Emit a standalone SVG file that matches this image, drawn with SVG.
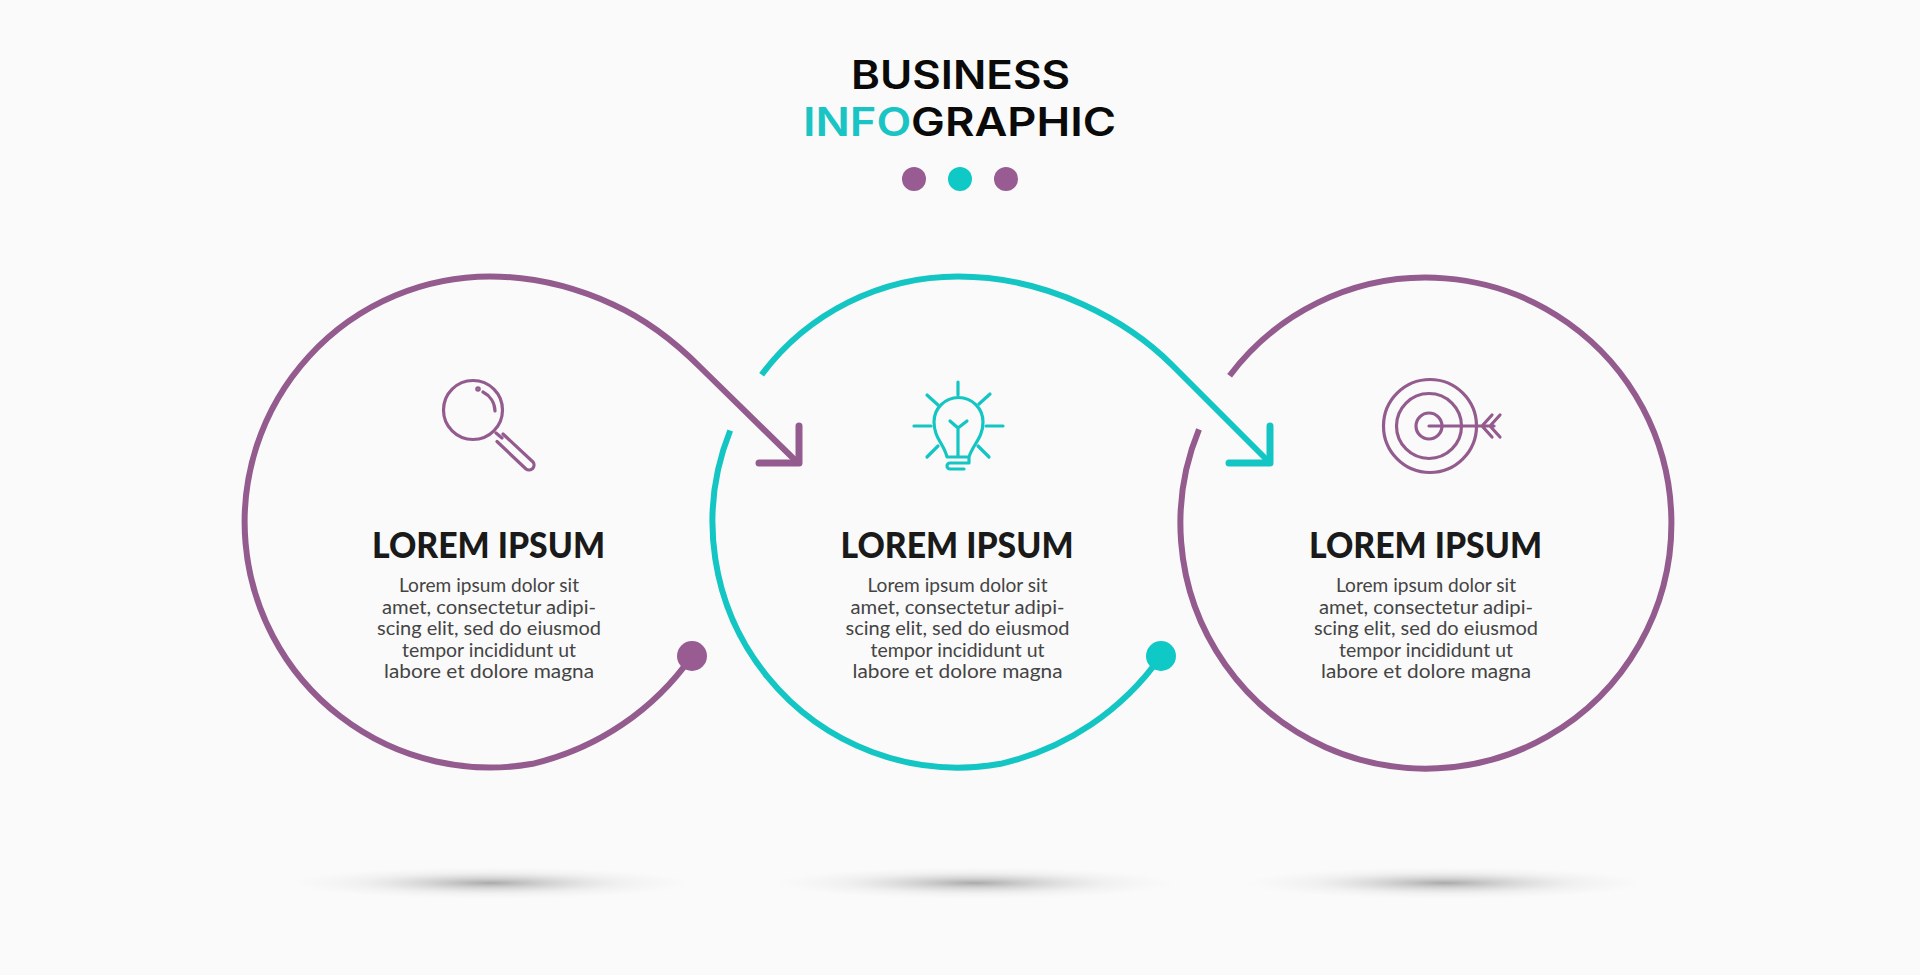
<svg xmlns="http://www.w3.org/2000/svg" width="1920" height="975" viewBox="0 0 1920 975">
<style>
text{text-anchor:middle}
.t{font-family:"Inter","Liberation Sans",sans-serif;font-weight:600;font-size:39px;fill:#0a0a0a}
.h{font-family:"Lato","Liberation Sans",sans-serif;font-weight:900;font-size:36px;fill:#1a1a1a}
.b{font-family:"Lato","Liberation Sans",sans-serif;font-weight:400;font-size:18.5px;fill:#444}
.con{fill:none;stroke-width:6}
.head{fill:none;stroke-width:7;stroke-linecap:round;stroke-linejoin:round}
.ic{fill:none;stroke-width:3.2;stroke-linecap:round;stroke-linejoin:round}
.p{stroke:#935b8e}
.c{stroke:#14c6c3}
.pf{fill:#985c92}
.cf{fill:#0fc9c6}
</style>
<defs>
<radialGradient id="sh"><stop offset="0" stop-color="#8f8f8f" stop-opacity=".75"/><stop offset=".3" stop-color="#a5a5a5" stop-opacity=".45"/><stop offset=".65" stop-color="#c5c5c5" stop-opacity=".18"/><stop offset="1" stop-color="#d8d8d8" stop-opacity="0"/></radialGradient>
</defs>
<rect width="1920" height="975" fill="#fafafa"/>
<g id="title">
<text class="t" x="960.5" y="89" textLength="219" lengthAdjust="spacingAndGlyphs">BUSINESS</text>
<text class="t" x="959.5" y="136" textLength="313" lengthAdjust="spacingAndGlyphs"><tspan fill="#19c4c4">INFO</tspan>GRAPHIC</text>
<circle class="pf" cx="914" cy="179" r="12"/><circle class="cf" cx="960" cy="179" r="12"/><circle class="pf" cx="1006" cy="179" r="12"/>
</g>
<g id="shadows">
<ellipse cx="490" cy="883" rx="200" ry="16" fill="url(#sh)"/>
<ellipse cx="975" cy="883" rx="200" ry="16" fill="url(#sh)"/>
<ellipse cx="1445" cy="883" rx="200" ry="16" fill="url(#sh)"/>
</g>
<g id="connectors">
<g id="connector-1">
<path class="con p" d="M692 656A270 270 0 0 1 532.600 763.800A245.500 245.500 0 1 1 490 276.500C535 276.500 577 288 613 304.500C645 319 672 339 700 367L797 462"/>
<path class="head p" d="M759 463H799V426"/>
<circle class="pf" cx="692" cy="656" r="15"/>
</g>
<g id="connector-2">
<path class="con c" d="M1161 656A270 270 0 0 1 1000.600 763.800A245.500 245.500 0 0 1 730.200 430.500M761.600 374.700A245.500 245.500 0 0 1 958 276.500C1003 276.500 1047 288 1083 304.500C1115 319 1144 337 1172 365L1268 461"/>
<path class="head c" d="M1229 463H1270V426"/>
<circle class="cf" cx="1161" cy="656" r="15"/>
</g>
<g id="connector-3">
<path class="con p" d="M1229.600 375.700A245.500 245.500 0 1 1 1199 429.400"/>
</g>
</g>
<g id="node-1">
<g class="ic p">
<circle cx="473" cy="410" r="29.500"/>
<path d="M496 433L502 438M497 441.500L526 469A5 5 0 0 0 533 462L503 434M483 392A22 22 0 0 1 495 411"/>
<circle cx="478" cy="389" r="1.200"/>
</g>
<text class="h" x="488.500" y="558" textLength="233" lengthAdjust="spacingAndGlyphs">LOREM IPSUM</text>
<text class="b" x="489" y="592" textLength="180" lengthAdjust="spacingAndGlyphs">Lorem ipsum dolor sit</text>
<text class="b" x="489" y="613.500" textLength="214" lengthAdjust="spacingAndGlyphs">amet, consectetur adipi-</text>
<text class="b" x="489" y="635" textLength="224" lengthAdjust="spacingAndGlyphs">scing elit, sed do eiusmod</text>
<text class="b" x="489" y="656.500" textLength="174" lengthAdjust="spacingAndGlyphs">tempor incididunt ut</text>
<text class="b" x="489" y="678" textLength="210" lengthAdjust="spacingAndGlyphs">labore et dolore magna</text>
</g>
<g id="node-2">
<g class="ic c">
<path d="M958 382V395M927 395L938 405M990 394L979 404M914 426H931M986 426H1003M927 457L938 446M989 457L978 446"/>
<path d="M947 457C944 444 934 438 934 422A24.500 24.500 0 0 1 983 422C983 438 973 444 969 457ZM950 421L958 428L967 421M958 428V457M969 457V463H950A3 3 0 0 0 950 469H964"/>
</g>
<text class="h" x="957" y="558" textLength="233" lengthAdjust="spacingAndGlyphs">LOREM IPSUM</text>
<text class="b" x="957.500" y="592" textLength="180" lengthAdjust="spacingAndGlyphs">Lorem ipsum dolor sit</text>
<text class="b" x="957.500" y="613.500" textLength="214" lengthAdjust="spacingAndGlyphs">amet, consectetur adipi-</text>
<text class="b" x="957.500" y="635" textLength="224" lengthAdjust="spacingAndGlyphs">scing elit, sed do eiusmod</text>
<text class="b" x="957.500" y="656.500" textLength="174" lengthAdjust="spacingAndGlyphs">tempor incididunt ut</text>
<text class="b" x="957.500" y="678" textLength="210" lengthAdjust="spacingAndGlyphs">labore et dolore magna</text>
</g>
<g id="node-3">
<g class="ic p">
<circle cx="1430" cy="426" r="46.500"/>
<circle cx="1429" cy="426" r="32.500"/>
<circle cx="1429" cy="426" r="13"/>
<path d="M1429 426H1494M1492 415L1482 426L1492 437M1500 415L1490 426L1500 437"/>
</g>
<text class="h" x="1425.500" y="558" textLength="233" lengthAdjust="spacingAndGlyphs">LOREM IPSUM</text>
<text class="b" x="1426" y="592" textLength="180" lengthAdjust="spacingAndGlyphs">Lorem ipsum dolor sit</text>
<text class="b" x="1426" y="613.500" textLength="214" lengthAdjust="spacingAndGlyphs">amet, consectetur adipi-</text>
<text class="b" x="1426" y="635" textLength="224" lengthAdjust="spacingAndGlyphs">scing elit, sed do eiusmod</text>
<text class="b" x="1426" y="656.500" textLength="174" lengthAdjust="spacingAndGlyphs">tempor incididunt ut</text>
<text class="b" x="1426" y="678" textLength="210" lengthAdjust="spacingAndGlyphs">labore et dolore magna</text>
</g>
</svg>
